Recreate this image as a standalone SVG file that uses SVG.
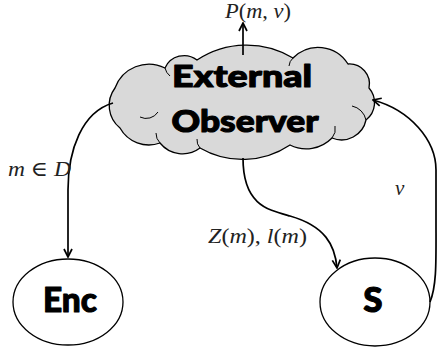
<svg xmlns="http://www.w3.org/2000/svg" width="437" height="351" viewBox="0 0 437 351">
<style>
.node{fill:#fff;stroke:#000;stroke-width:1.3}
.cloud{fill:#d9d9d9;stroke:#000;stroke-width:1.3;stroke-linejoin:round}
.inner{fill:none;stroke:#000;stroke-width:1}
.big{font-family:Lato,"Open Sans","Liberation Sans",sans-serif;font-weight:900;fill:#000;stroke:#000;stroke-width:1.1;stroke-linejoin:round;text-anchor:middle}
.math{font-family:"Liberation Serif","DejaVu Serif",serif;font-size:21px;fill:#222}
.it{font-style:italic}
.edge{fill:none;stroke:#000;stroke-width:1.7}
</style>
<defs>
<marker id="arr" viewBox="0 0 10 10" refX="9" refY="5" markerWidth="10" markerHeight="10" markerUnits="userSpaceOnUse" orient="auto">
<path d="M1,1 L9,5 L1,9" fill="none" stroke="#000" stroke-width="1.7" stroke-linejoin="miter"/>
</marker>
</defs>
<g id="observer">
<path class="cloud" d="M115,88 A36,36 0 0 1 165,68 A21,21 0 0 1 197,60 A90,90 0 0 1 293,58 A35,35 0 0 1 348,64 A20,20 0 0 1 369,88 A22,22 0 0 1 366,120 A25,25 0 0 1 332,138 A36,36 0 0 1 290,145 A85,85 0 0 1 200,148 A29,29 0 0 1 160,143 A33,33 0 0 1 120,128 A29,29 0 0 1 115,88 Z"/>
<path class="inner" d="M140,117 A14,14 0 0 0 158,112"/>
<path class="inner" d="M160,143 A14,14 0 0 1 156,133"/>
<path class="inner" d="M200,148 A12,12 0 0 1 197,139"/>
<path class="inner" d="M332,138 A14,14 0 0 0 335,126"/>
<path class="inner" d="M366,120 A18,18 0 0 0 352,106"/>
<path class="inner" d="M293,58 A12,12 0 0 0 289,66"/>
<path class="inner" d="M165,68 A14,14 0 0 0 170,76"/>
<text class="big" x="242" y="87" font-size="31" textLength="140" lengthAdjust="spacingAndGlyphs">External</text>
<text class="big" x="245" y="132" font-size="31" textLength="147" lengthAdjust="spacingAndGlyphs">Observer</text>
</g>
<g id="enc">
<ellipse class="node" cx="68" cy="302" rx="55" ry="43"/>
<text class="big" x="70" y="312" font-size="35" textLength="54" lengthAdjust="spacingAndGlyphs">Enc</text>
</g>
<g id="s">
<ellipse class="node" cx="375" cy="302" rx="55" ry="44"/>
<text class="big" x="373" y="312" font-size="35">S</text>
</g>
<g id="connectors">
<path class="edge" d="M243,55 L243,23" marker-end="url(#arr)"/>
<path class="edge" d="M113,103 C82,112 68,150 68,190 L68,257" marker-end="url(#arr)"/>
<path class="edge" d="M243,158 C243,205 268,210 290,216 C325,226 335,245 337,268" marker-end="url(#arr)"/>
<path class="edge" d="M430,302 C437,285 436,260 436,220 L436,170 C436,140 410,110 373,100" marker-end="url(#arr)"/>
<text class="math" x="225" y="18" textLength="66" lengthAdjust="spacingAndGlyphs"><tspan class="it">P</tspan>(<tspan class="it">m</tspan>, <tspan class="it">v</tspan>)</text>
<text class="math" x="8" y="176" textLength="63" lengthAdjust="spacingAndGlyphs"><tspan class="it">m</tspan> ∈ <tspan class="it">D</tspan></text>
<text class="math" x="208" y="243" textLength="99" lengthAdjust="spacingAndGlyphs"><tspan class="it">Z</tspan>(<tspan class="it">m</tspan>), <tspan class="it">l</tspan>(<tspan class="it">m</tspan>)</text>
<text class="math it" x="395" y="195">v</text>
</g>
</svg>
